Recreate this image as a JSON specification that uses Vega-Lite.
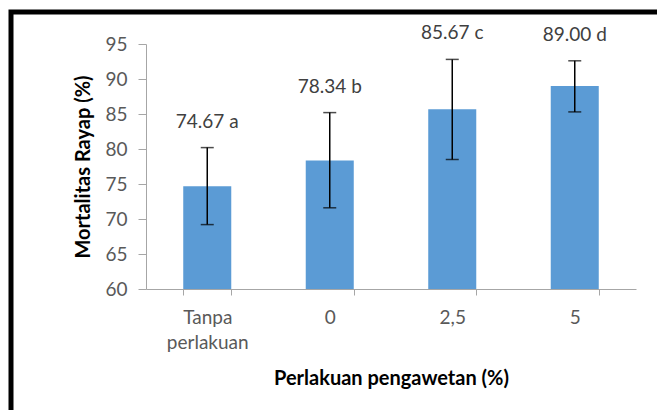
{
  "$schema": "https://vega.github.io/schema/vega-lite/v6.json",
  "autosize": {"type": "none"},
  "width": 646,
  "height": 398,
  "padding": {"left": 11, "top": 12, "right": 0, "bottom": 0},
  "background": "white",
  "config": {
    "view": {"stroke": "#000000", "strokeWidth": 5, "strokeDash": [646, 1044, 398], "strokeCap": "square"},
    "font": "Lato"
  },
  "data": {
    "values": [
      {"perlakuan": "Tanpa perlakuan", "mortalitas": 74.67, "lo": 69.2, "hi": 80.2, "label": "74.67 a"},
      {"perlakuan": "0", "mortalitas": 78.34, "lo": 71.6, "hi": 85.2, "label": "78.34 b"},
      {"perlakuan": "2,5", "mortalitas": 85.67, "lo": 78.5, "hi": 92.8, "label": "85.67 c"},
      {"perlakuan": "5", "mortalitas": 89.0, "lo": 85.3, "hi": 92.6, "label": "89.00 d"}
    ]
  },
  "encoding": {
    "x": {
      "field": "perlakuan",
      "type": "nominal",
      "sort": ["Tanpa perlakuan", "0", "2,5", "5"],
      "scale": {"range": [135, 625], "paddingInner": 0.608, "paddingOuter": 0.304},
      "axis": {
        "title": "Perlakuan pengawetan (%)",
        "offset": -121,
        "labelAngle": 0,
        "labelExpr": "split(datum.label, ' ')",
        "labelLineHeight": 25,
        "labelFont": "Lato",
        "labelFontSize": 19,
        "labelColor": "#595959",
        "labelPadding": 13,
        "tickBand": "extent",
        "tickSize": 6,
        "tickColor": "#a6a6a6",
        "domainColor": "#a6a6a6",
        "titleFont": "Lato",
        "titleFontSize": 20,
        "titleFontWeight": "bold",
        "titleColor": "#000000",
        "titlePadding": 16
      }
    }
  },
  "layer": [
    {
      "mark": {"type": "bar", "color": "#5B9BD5"},
      "encoding": {
        "y": {
          "field": "mortalitas",
          "type": "quantitative",
          "scale": {"domain": [60, 95], "range": [277, 32], "zero": false, "nice": false},
          "axis": {
            "title": "Mortalitas Rayap (%)",
            "offset": -135,
            "values": [60, 65, 70, 75, 80, 85, 90, 95],
            "grid": false,
            "labelFont": "Lato",
            "labelFontSize": 19,
            "labelColor": "#595959",
            "labelPadding": 11,
            "tickSize": 8,
            "tickColor": "#a6a6a6",
            "domainColor": "#a6a6a6",
            "titleFont": "Lato",
            "titleFontSize": 20,
            "titleFontWeight": "bold",
            "titleColor": "#000000",
            "titlePadding": 11
          }
        },
        "y2": {"datum": 60}
      }
    },
    {
      "mark": {"type": "rule", "color": "#000000", "strokeWidth": 1.5},
      "encoding": {
        "y": {"field": "lo", "type": "quantitative"},
        "y2": {"field": "hi"}
      }
    },
    {
      "mark": {"type": "tick", "color": "#000000", "thickness": 1.5, "size": 13, "orient": "horizontal"},
      "encoding": {"y": {"field": "lo", "type": "quantitative"}}
    },
    {
      "mark": {"type": "tick", "color": "#000000", "thickness": 1.5, "size": 13, "orient": "horizontal"},
      "encoding": {"y": {"field": "hi", "type": "quantitative"}}
    },
    {
      "mark": {"type": "text", "font": "Lato", "fontSize": 19, "color": "#404040", "baseline": "middle", "dy": -26},
      "encoding": {
        "y": {"field": "hi", "type": "quantitative"},
        "text": {"field": "label"}
      }
    }
  ]
}
